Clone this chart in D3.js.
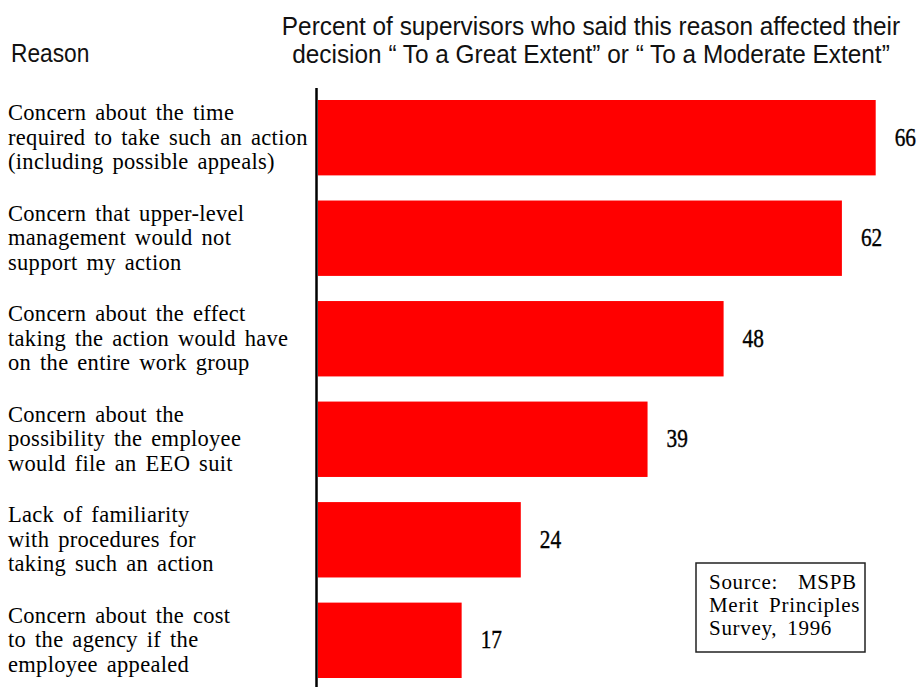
<!DOCTYPE html>
<html>
<head>
<meta charset="utf-8">
<script src="https://cdn.jsdelivr.net/npm/d3@7/dist/d3.min.js"></script>
<style>
  html, body { margin: 0; padding: 0; background: #fff; }
  svg { display: block; }
  .sans { font-family: "Liberation Sans", Arial, sans-serif; fill: #111; }
  .serif { font-family: "Liberation Serif", "Times New Roman", serif; fill: #000; }
</style>
</head>
<body>
<div id="chart"></div>
<script>
// Reasons supervisors gave (one entry per bar, split into display lines)
const reasons = [
  ["Concern about the time", "required to take such an action", "(including possible appeals)"],
  ["Concern that upper-level", "management would not", "support my action"],
  ["Concern about the effect", "taking the action would have", "on the entire work group"],
  ["Concern about the", "possibility the employee", "would file an EEO suit"],
  ["Lack of familiarity", "with procedures for", "taking such an action"],
  ["Concern about the cost", "to the agency if the", "employee appealed"]
];
// Percent answering "To a Great Extent" or "To a Moderate Extent"
const percents = [66, 62, 48, 39, 24, 17];

const titleLines = [
  "Percent of supervisors who said this reason affected their",
  "decision \u201C To a Great Extent\u201D or \u201C To a Moderate Extent\u201D"
];
const sourceLines = ["Source:  MSPB", "Merit Principles", "Survey, 1996"];

const width = 918, height = 687;
const svg = d3.select("#chart").append("svg")
  .attr("width", width).attr("height", height);

const ids = d3.range(reasons.length);

const y = d3.scaleBand()
  .domain(ids)
  .range([100, 678])
  .paddingInner(0.25)
  .paddingOuter(0);

const x = d3.scaleLinear()
  .domain([0, 100])
  .range([318, 318 + 845]);

// Headers
svg.append("text")
  .attr("class", "sans")
  .attr("transform", "translate(11,62) scale(0.91,1)")
  .style("font-size", "25px")
  .text("Reason");

const title = svg.append("g").attr("transform", "translate(591,0)");
titleLines.forEach((t, i) => {
  title.append("text")
    .attr("class", "sans")
    .attr("text-anchor", "middle")
    .attr("transform", `translate(0,${35 + i * 28}) scale(0.975,1)`)
    .style("font-size", "25px")
    .style("white-space", "pre")
    .text(t);
});

// Bars
svg.append("g").selectAll("rect")
  .data(ids)
  .join("rect")
  .attr("x", x(0))
  .attr("y", i => y(i))
  .attr("width", i => x(percents[i]) - x(0))
  .attr("height", y.bandwidth())
  .attr("fill", "#ff0000");

// Value labels
svg.append("g").selectAll("text")
  .data(ids)
  .join("text")
  .attr("class", "serif")
  .attr("transform", i => `translate(${x(percents[i]) + 19},${y(i) + y.bandwidth() / 2 + 8}) scale(0.82,1)`)
  .style("font-size", "26px")
  .style("stroke", "#000")
  .style("stroke-width", "0.4px")
  .text(i => percents[i]);

// Category labels
const labels = svg.append("g").selectAll("text")
  .data(ids)
  .join("text")
  .attr("class", "serif")
  .style("font-size", "22.5px")
  .style("letter-spacing", "0.3px")
  .style("word-spacing", "3px");
labels.selectAll("tspan")
  .data(i => reasons[i].map((line, k) => ({ line, k, i })))
  .join("tspan")
  .attr("x", 8)
  .attr("y", d => y(d.i) + y.bandwidth() / 2 + (d.k - 1) * 24.5 + 7)
  .text(d => d.line);

// Vertical axis line
svg.append("line")
  .attr("x1", x(0) - 1.5).attr("x2", x(0) - 1.5)
  .attr("y1", y.range()[0] - 12).attr("y2", height)
  .attr("stroke", "#000").attr("stroke-width", 2.5);

// Source box
const src = svg.append("g").attr("transform", "translate(696,563)");
src.append("rect")
  .attr("width", 169).attr("height", 89)
  .attr("fill", "#fff").attr("stroke", "#222").attr("stroke-width", 1.5);
sourceLines.forEach((t, i) => {
  src.append("text")
    .attr("class", "serif")
    .attr("x", 13)
    .attr("y", 26 + i * 23)
    .style("font-size", "21px")
    .style("letter-spacing", "0.7px")
    .style("word-spacing", "4px")
    .style("white-space", "pre")
    .text(t);
});
</script>
</body>
</html>
